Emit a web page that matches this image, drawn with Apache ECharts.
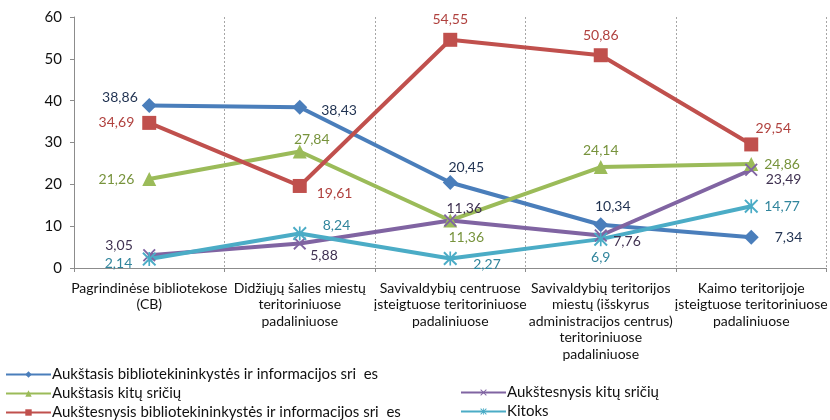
<!DOCTYPE html>
<html>
<head>
<meta charset="utf-8">
<script src="https://cdn.jsdelivr.net/npm/echarts@6/dist/echarts.min.js"></script>
<style>
  html, body { margin: 0; padding: 0; background: #fff; }
  #chart { width: 830px; height: 420px; }
</style>
</head>
<body>
<div id="chart"></div>
<script>
// kategorijos
const categories = [
  'Pagrindinėse bibliotekose\n(CB)',
  'Didžiųjų šalies miestų\nteritoriniuose\npadaliniuose',
  'Savivaldybių centruose\nįsteigtuose teritoriniuose\npadaliniuose',
  'Savivaldybių teritorijos\nmiestų (išskyrus\nadministracijos centrus)\nteritoriniuose\npadaliniuose',
  'Kaimo teritorijoje\nįsteigtuose teritoriniuose\npadaliniuose'
];

const seriesNames = [
  'Aukštasis bibliotekininkystės ir informacijos sri  es',
  'Aukštasis kitų sričių',
  'Aukštesnysis bibliotekininkystės ir informacijos sri  es',
  'Aukštesnysis kitų sričių',
  'Kitoks'
];

const aukstasisBib = [38.86, 38.43, 20.45, 10.34, 7.34];
const aukstasisKitu = [21.26, 27.84, 11.36, 24.14, 24.86];
const aukstesnysisBib = [34.69, 19.61, 54.55, 50.86, 29.54];
const aukstesnysisKitu = [3.05, 5.88, 11.36, 7.76, 23.49];
const kitoks = [2.14, 8.24, 2.27, 6.9, 14.77];

const yTicks = [0, 10, 20, 30, 40, 50, 60];

const FONT = 'Lato, "Liberation Sans", sans-serif';

// kryžiukas ir žvaigždutė žymekliams
const crossPath = 'path://M1,0L5,4L9,0L10,1L6,5L10,9L9,10L5,6L1,10L0,9L4,5L0,1Z';
const starPath = 'path://M1,0L5,4L9,0L10,1L6,5L10,9L9,10L5,6L1,10L0,9L4,5L0,1Z' +
  'M4.4,0L5.6,0L5.6,10L4.4,10Z';

const fmt = p => String(p.value).replace('.', ',');

// etikečių vietos kiekvienam taškui
const lbl = (pos, dx, dy) => ({ position: pos, offset: [dx || 0, dy || 0] });

function makeSeries(name, values, color, labelColor, symbol, size, places) {
  return {
    name: name,
    type: 'line',
    data: values.map((v, i) => ({
      value: v,
      label: places[i]
    })),
    symbol: symbol,
    symbolSize: size,
    showAllSymbol: true,
    lineStyle: { color: color, width: 4 },
    itemStyle: { color: color, borderColor: color, borderWidth: 0 },
    label: {
      show: true,
      formatter: fmt,
      color: labelColor,
      fontFamily: FONT,
      fontSize: 14,
      distance: 6
    },
    emphasis: { disabled: true },
    z: 2
  };
}

// vienas legendos įrašas
function legendItem(name, left, centerY) {
  return {
    data: [name],
    orient: 'horizontal',
    left: left,
    top: centerY - 8,
    padding: 0,
    itemWidth: 45,
    itemHeight: 8,
    textStyle: { fontSize: 15, color: '#111', padding: [0, 0, 0, -4] }
  };
}

const chart = echarts.init(document.getElementById('chart'));

chart.setOption({
  animation: false,
  textStyle: { fontFamily: FONT },
  grid: { left: 74, top: 17, width: 759, height: 251, containLabel: false },
  legend: [
    legendItem(seriesNames[0], 5, 375),
    legendItem(seriesNames[1], 5, 394),
    legendItem(seriesNames[2], 5, 413),
    legendItem(seriesNames[3], 460, 393),
    legendItem(seriesNames[4], 460, 412)
  ],
  xAxis: {
    type: 'category',
    data: categories,
    boundaryGap: true,
    axisLine: { lineStyle: { color: '#8c8c8c', width: 1 } },
    axisTick: { show: true, length: 4, lineStyle: { color: '#8c8c8c' } },
    splitLine: { show: true, lineStyle: { color: '#a6a6a6', type: [2, 2], width: 1 } },
    axisLabel: {
      interval: 0,
      margin: 12,
      fontSize: 14,
      lineHeight: 16.5,
      color: '#111',
      fontFamily: FONT
    }
  },
  yAxis: {
    type: 'value',
    min: yTicks[0],
    max: yTicks[yTicks.length - 1],
    interval: 10,
    axisLine: { show: true, lineStyle: { color: '#8c8c8c', width: 1 } },
    axisTick: { show: true, length: 4, lineStyle: { color: '#8c8c8c' } },
    splitLine: { show: false },
    axisLabel: { fontSize: 15, color: '#111', margin: 12, fontFamily: FONT }
  },
  series: [
    makeSeries(seriesNames[0], aukstasisBib, '#4a7ebb', '#1f3150', 'diamond', 15,
      [lbl('left', 2, -8), lbl('right', 8, 3), lbl('top', 16, 6), lbl('top', 12, 2), lbl('right', 10, 0)]),
    makeSeries(seriesNames[1], aukstasisKitu, '#9bbb59', '#77933c', 'triangle', 14,
      [lbl('left', -2, 0), lbl('top', 12, 8), lbl('bottom', 16, -3), lbl('top', 0, 3), lbl('right', 0, 0)]),
    makeSeries(seriesNames[2], aukstesnysisBib, '#c0504d', '#b0413e', 'rect', 14,
      [lbl('left', -2, 0), lbl('right', 4, 8), lbl('top'), lbl('top'), lbl('top', 22, 4)]),
    makeSeries(seriesNames[3], aukstesnysisKitu, '#8064a2', '#3f3151', crossPath, 13,
      [lbl('left', -4, -10), lbl('right', -2, 12), lbl('top', 14, 8), lbl('right', 0, 6), lbl('right', 2, 10)]),
    makeSeries(seriesNames[4], kitoks, '#4bacc6', '#31859c', starPath, 14,
      [lbl('left', -4, 4), lbl('right', 10, -8), lbl('right', 10, 6), lbl('bottom', 0, -2), lbl('right', 0, 0)])
  ]
});
</script>
</body>
</html>
